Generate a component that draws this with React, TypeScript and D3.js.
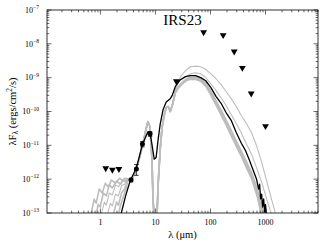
import React from 'react';
import * as d3 from 'd3';

const W = 327;
const H = 247;
const left = 47, right = 318, top = 10, bottom = 213;

// photometry: wavelength (um), lambda F_lambda (ergs/cm^2/s)
const detWave = [3.6, 4.5, 5.8, 8.0];
const detFlux = [9.5e-13, 2.0e-12, 1.1e-11, 2.2e-11];
const detErr = [1.2e-13, 0.7e-12, 2.0e-12, 3.5e-12];

const limWave = [1.25, 1.65, 2.17, 24, 75, 170, 270, 380, 550, 1000];
const limFlux = [2.1e-12, 1.9e-12, 2.0e-12, 7.8e-10, 2.2e-8, 1.8e-8, 5.9e-9, 1.95e-9, 3.4e-10, 3.7e-11];

// best fit model
const bestFit = [
  [2.3, 8e-14], [2.42, 1.07e-13], [2.87, 3.2e-13], [3.5, 9.3e-13], [4.5, 2.1e-12], [5.8, 1.07e-11],
  [7.3, 2.5e-11], [7.95, 2.4e-11], [8.65, 1.07e-11], [9.5, 3.9e-12], [10.3, 4.4e-12], [11.2, 1.5e-11],
  [12.2, 4.2e-11], [13.8, 1.15e-10], [15.7, 1.9e-10], [18.6, 2.4e-10], [20.2, 3.0e-10], [23.0, 5.5e-10],
  [28.4, 8.7e-10], [35.2, 1.07e-9], [43.5, 1.15e-9], [53.8, 1.15e-9], [66.5, 1.0e-9], [82.2, 8.1e-10],
  [102, 5.1e-10], [126, 2.8e-10], [156, 1.75e-10], [192, 9.3e-11], [238, 5.5e-11], [294, 2.4e-11],
  [364, 1.15e-11], [431, 7.1e-12], [511, 3.6e-12], [605, 1.75e-12], [688, 1.0e-12], [750, 5.1e-13],
  [782, 7.1e-13], [815, 2.6e-13], [851, 3.6e-13], [887, 1.5e-13], [926, 2.6e-13], [966, 1.07e-13],
  [1000, 1.8e-13], [1050, 8e-14],
];

// other good fits (grey), near-IR part
const nirA = [[0.676, 9.1e-14], [0.769, 2.57e-13], [0.837, 1.95e-13], [0.951, 5.1e-13], [1.08, 3.9e-13], [1.23, 7.6e-13], [1.39, 5.9e-13], [1.58, 9.4e-13], [1.88, 7.6e-13], [2.22, 1.07e-12], [2.63, 8.8e-13]];
const nirB = [[0.837, 9.1e-14], [0.911, 1.8e-13], [0.992, 1.5e-13], [1.13, 3.9e-13], [1.28, 3.2e-13], [1.45, 6.8e-13], [1.65, 5.5e-13], [1.96, 8.8e-13], [2.32, 7.1e-13], [2.75, 1.07e-12]];
const nirC = [[1.03, 9.1e-14], [1.18, 2.1e-13], [1.28, 1.7e-13], [1.45, 3.9e-13], [1.65, 3.4e-13], [1.88, 6.8e-13], [2.13, 5.9e-13], [2.53, 9.4e-13], [2.87, 8.2e-13]];
const nirD = [[1.34, 9.1e-14], [1.52, 1.95e-13], [1.65, 1.6e-13], [1.88, 3.6e-13], [2.13, 3.2e-13], [2.42, 6.4e-13], [2.75, 7.1e-13]];
const nirE = [[1.72, 9.1e-14], [1.96, 2.1e-13], [2.13, 1.7e-13], [2.42, 3.9e-13], [2.75, 5.1e-13], [2.99, 7.6e-13]];
const nirF = [[2.13, 9.1e-14], [2.32, 1.7e-13], [2.53, 2.57e-13], [2.75, 3.9e-13], [2.99, 5.9e-13]];

// mid-IR part shared by the grey fits
const midIR = [
  [3.12, 1.0e-12], [3.55, 8.8e-13], [4.03, 1.3e-12], [4.58, 2.2e-12], [5.2, 4.7e-12], [5.91, 1.07e-11],
  [6.71, 2.95e-11], [7.3, 5.0e-11], [7.95, 3.6e-11], [8.65, 3.9e-12], [9.03, 2.6e-13], [9.42, 9e-14],
  [10.7, 9e-14], [11.2, 7.1e-13], [12.2, 7.6e-12], [13.2, 3.4e-11], [14.4, 7.6e-11], [15.7, 1.3e-10],
  [17.1, 1.4e-10], [18.6, 1.0e-10], [20.2, 1.5e-10], [23.0, 3.6e-10],
];

// far-IR / submm part: a tight band just under the best fit, plus two fainter fits above it
const farA = [[26.2, 5.1e-10], [30.9, 6.9e-10], [36.7, 8.5e-10], [43.5, 9.3e-10], [53.8, 9.3e-10], [66.5, 8.2e-10], [82.2, 6.0e-10], [102, 3.3e-10], [126, 1.7e-10], [156, 9.0e-11], [192, 4.5e-11], [238, 2.1e-11], [294, 1.05e-11], [364, 5.3e-12], [450, 2.5e-12], [556, 1.2e-12], [632, 6.6e-13], [717, 3.4e-13], [782, 1.9e-13], [851, 9.1e-14]];
const farB = [[26.2, 5.4e-10], [30.9, 7.1e-10], [36.7, 8.9e-10], [43.5, 9.8e-10], [53.8, 1.0e-9], [66.5, 8.9e-10], [82.2, 6.5e-10], [102, 3.7e-10], [126, 1.9e-10], [156, 1.02e-10], [192, 5.1e-11], [238, 2.4e-11], [294, 1.2e-11], [364, 6.0e-12], [450, 2.9e-12], [556, 1.4e-12], [660, 6.3e-13], [750, 3.2e-13], [815, 1.8e-13], [900, 9.1e-14]];
const farC = [[23.0, 4.5e-10], [26.2, 7.6e-10], [30.9, 9.3e-10], [36.7, 1.1e-9], [43.5, 1.3e-9], [53.8, 1.4e-9], [66.5, 1.3e-9], [82.2, 1.0e-9], [102, 6.6e-10], [126, 4.2e-10], [156, 2.5e-10], [192, 1.5e-10], [238, 8.1e-11], [294, 4.4e-11], [364, 2.3e-11], [450, 1.1e-11], [556, 5.5e-12], [688, 2.2e-12], [851, 8.2e-13], [1008, 3.2e-13], [1195, 1.3e-13], [1300, 9.1e-14]];
const farD = [[23.0, 4.2e-10], [25.1, 6.6e-10], [28.4, 1.07e-9], [35.2, 1.6e-9], [43.5, 2.1e-9], [53.8, 2.2e-9], [66.5, 2.1e-9], [82.2, 1.74e-9], [102, 1.3e-9], [126, 9.3e-10], [156, 6.2e-10], [192, 3.9e-10], [238, 2.4e-10], [294, 1.4e-10], [364, 7.6e-11], [450, 4.4e-11], [556, 2.4e-11], [688, 9.8e-12], [851, 3.2e-12], [1052, 8.8e-13], [1300, 2.4e-13], [1535, 9.1e-14]];
const farE = [[26.2, 4.9e-10], [30.9, 6.6e-10], [36.7, 8.2e-10], [43.5, 9.0e-10], [53.8, 8.9e-10], [66.5, 7.8e-10], [82.2, 5.6e-10], [102, 3.0e-10], [126, 1.55e-10], [156, 8.0e-11], [192, 4.0e-11], [238, 1.9e-11], [294, 9.4e-12], [364, 4.7e-12], [450, 2.2e-12], [556, 1.05e-12], [632, 5.6e-13], [717, 2.8e-13], [782, 1.5e-13], [830, 9.1e-14]];
const farF = [[26.2, 5.4e-10], [30.9, 7.3e-10], [36.7, 9.3e-10], [43.5, 1.02e-9], [53.8, 1.04e-9], [66.5, 9.3e-10], [82.2, 6.9e-10], [102, 4.0e-10], [126, 2.1e-10], [156, 1.12e-10], [192, 5.7e-11], [238, 2.8e-11], [294, 1.35e-11], [364, 6.8e-12], [450, 3.3e-12], [556, 1.6e-12], [660, 7.4e-13], [750, 3.8e-13], [851, 1.8e-13], [940, 9.1e-14]];

const greyFits = [
  [...nirA, ...midIR, ...farA],
  [...nirB, ...midIR, ...farB],
  [...nirC, ...midIR.slice(0, -1), ...farC],
  [...nirD, ...midIR.slice(0, -1), ...farD],
  [...nirE, ...midIR, ...farE],
  [...nirF, ...midIR, ...farF],
];

const xLabels = [1, 10, 100, 1000];

const serif = { fontFamily: "'Liberation Serif', 'DejaVu Serif', serif" };

export default function App() {
  const x = d3.scaleLog().domain([0.107, 9000]).range([left, right]);
  const y = d3.scaleLog().domain([1e-13, 1e-7]).range([bottom, top]);

  const line = d3.line<number[]>()
    .x(d => x(d[0]))
    .y(d => y(d[1]));

  const isMajor = (t: number) => Math.abs(Math.log10(t) - Math.round(Math.log10(t))) < 1e-6;
  const xt = x.ticks();
  const yt = y.ticks();
  const tri = d3.symbol(d3.symbolTriangle, 20)();

  return (
    <svg width={W} height={H} style={{ position: 'absolute', left: 0, top: 0, background: '#fff' }}>
      <defs>
        <clipPath id="plot">
          <rect x={left} y={top} width={right - left} height={bottom - top} />
        </clipPath>
      </defs>

      <g clipPath="url(#plot)" fill="none">
        {greyFits.map((g, i) => (
          <path key={i} d={line(g) || ''} stroke="#bdbdbd" strokeWidth={i === 2 || i === 3 ? 1.1 : 1.6}
            strokeLinejoin="round" />
        ))}
        <path d={line(bestFit) || ''} stroke="#000" strokeWidth={1.3} strokeLinejoin="round" />
      </g>

      {/* detections with error bars */}
      {detWave.map((w, i) => {
        const cx = x(w);
        const y0 = y(detFlux[i] - detErr[i]);
        const y1 = y(detFlux[i] + detErr[i]);
        return (
          <g key={i} stroke="#000" strokeWidth={0.8}>
            <line x1={cx} x2={cx} y1={y0} y2={y1} />
            <line x1={cx - 2.2} x2={cx + 2.2} y1={y0} y2={y0} />
            <line x1={cx - 2.2} x2={cx + 2.2} y1={y1} y2={y1} />
            <circle cx={cx} cy={y(detFlux[i])} r={2.5} fill="#000" stroke="none" />
          </g>
        );
      })}

      {/* upper limits */}
      {limWave.map((w, i) => (
        <path key={i} d={tri || ''} fill="#000"
          transform={`translate(${x(w)},${y(limFlux[i])}) rotate(180)`} />
      ))}

      {/* frame and ticks */}
      <rect x={left} y={top} width={right - left} height={bottom - top} fill="none" stroke="#000" strokeWidth={0.8} />
      <g stroke="#000" strokeWidth={0.6}>
        {xt.map((t, i) => {
          const len = isMajor(t) ? 4.5 : 2.3;
          const px = x(t);
          return (
            <g key={i}>
              <line x1={px} x2={px} y1={bottom} y2={bottom - len} />
              <line x1={px} x2={px} y1={top} y2={top + len} />
            </g>
          );
        })}
        {yt.map((t, i) => {
          const len = isMajor(t) ? 4.5 : 2.3;
          const py = y(t);
          return (
            <g key={i}>
              <line x1={left} x2={left + len} y1={py} y2={py} />
              <line x1={right} x2={right - len} y1={py} y2={py} />
            </g>
          );
        })}
      </g>

      {/* tick labels */}
      {xLabels.map(v => (
        <text key={v} x={x(v)} y={225} fontSize={8} textAnchor="middle" style={serif}>{v}</text>
      ))}
      {yt.filter(isMajor).map((t, i) => (
        <text key={i} x={39} y={y(t) + 2.8} fontSize={8} textAnchor="end" style={serif}>
          10<tspan fontSize={5.6} dy={-3.6}>{'\u2212' + Math.round(-Math.log10(t))}</tspan>
        </text>
      ))}

      {/* axis titles */}
      <text x={(left + right) / 2} y={238} fontSize={10.5} textAnchor="middle" style={serif}>λ (μm)</text>
      <text transform={`translate(15.5,${(top + bottom) / 2}) rotate(-90)`} fontSize={10.5} textAnchor="middle" style={serif}>
        λF<tspan fontSize={7.5} dy={2}>λ</tspan><tspan dy={-2}> (ergs/cm</tspan><tspan fontSize={7.5} dy={-4}>2</tspan><tspan dy={4}>/s)</tspan>
      </text>

      <text x={(left + right) / 2} y={25} fontSize={15} textAnchor="middle" style={serif}>IRS23</text>
    </svg>
  );
}
